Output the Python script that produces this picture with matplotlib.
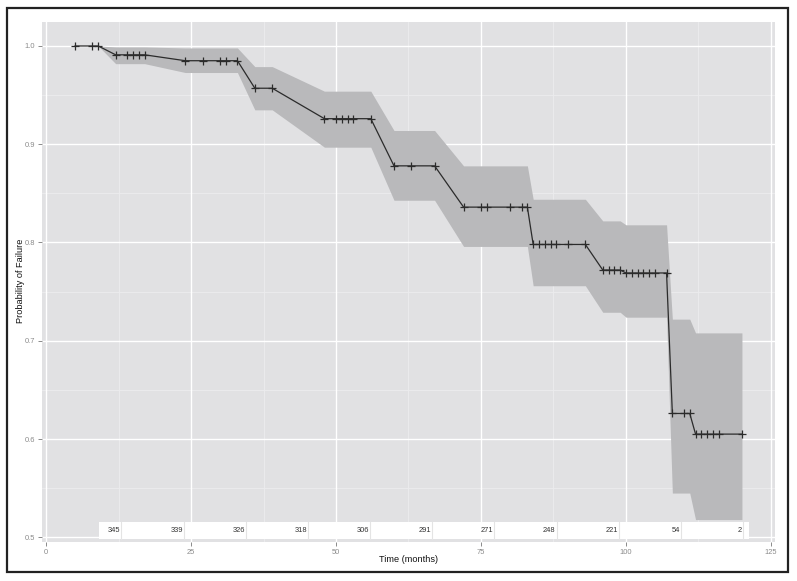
import numpy as np
import matplotlib.pyplot as plt
from matplotlib.patches import Rectangle

plt.rcParams['font.family'] = ['Liberation Sans', 'DejaVu Sans']

# Kaplan-Meier style failure curve
times = [5, 8, 9,
         12, 14, 15, 16, 17,
         24, 27, 30, 31, 33,
         36, 39,
         48, 50, 51, 52, 53, 56,
         60, 63, 67,
         72, 75, 76, 80, 82, 83,
         84, 85, 86, 87, 88, 90, 93,
         96, 97, 98, 99,
         100, 101, 102, 103, 104, 105, 107,
         108, 110, 111,
         112, 113, 114, 115, 116, 120]
level_sizes = [3, 5, 5, 2, 6, 3, 6, 7, 4, 7, 3, 6]
level_prob = [1.0, 0.991, 0.985, 0.957, 0.926, 0.878, 0.836, 0.798, 0.772, 0.769, 0.626, 0.605]
level_upper = [1.0, 0.999, 0.998, 0.979, 0.954, 0.914, 0.878, 0.844, 0.822, 0.818, 0.722, 0.708]
level_lower = [1.0, 0.982, 0.973, 0.935, 0.897, 0.843, 0.796, 0.756, 0.729, 0.724, 0.545, 0.518]

at_risk = ["345", "339", "326", "318", "306", "291", "271", "248", "221", "54", "2"]

prob = np.repeat(level_prob, level_sizes)
upper = np.repeat(level_upper, level_sizes)
lower = np.repeat(level_lower, level_sizes)

fig = plt.figure(figsize=(7.97, 5.81), dpi=100)
ax = fig.add_axes([42 / 797, 1 - 542 / 581, 733 / 797, 520 / 581])
ax.set_facecolor("#e1e1e3")

ax.set_xlim(-0.7, 125.7)
ax.set_ylim(0.4952, 1.0244)

# grid (ggplot-ish)
for x in np.arange(12.5, 126, 25):
    ax.axvline(x, color="#ececee", lw=0.6, zorder=0)
for y in np.arange(0.55, 1.01, 0.1):
    ax.axhline(y, color="#ececee", lw=0.6, zorder=0)
for x in np.arange(0, 126, 25):
    ax.axvline(x, color="white", lw=1.0, zorder=0.5)
for y in np.arange(0.5, 1.01, 0.1):
    ax.axhline(y, color="white", lw=1.0, zorder=0.5)

ax.fill_between(times, lower, upper, color="#b9b9bb", lw=0, zorder=1)
ax.plot(times, prob, color="#2b2b2b", lw=0.9, marker="+", ms=6, mew=0.9, zorder=2)

# number at risk strip
ax.add_patch(Rectangle((9.14, 0.498), 121.2 - 9.14, 0.5156 - 0.498,
                       facecolor="white", edgecolor="none", zorder=3))
seps = 13.0 + 10.72 * np.arange(len(at_risk))
for s, lab in zip(seps, at_risk):
    ax.plot([s, s], [0.498, 0.5156], color="#e4e4e4", lw=0.8, zorder=4)
    ax.text(s - 0.15, 0.5068, lab, ha="right", va="center", fontsize=5.4,
            color="#333333", zorder=5)

for sp in ax.spines.values():
    sp.set_visible(False)

ax.set_xticks(np.arange(0, 126, 25))
ax.set_yticks([0.5, 0.6, 0.7, 0.8, 0.9, 1.0])
ax.set_yticklabels(["0.5", "0.6", "0.7", "0.8", "0.9", "1.0"])
ax.tick_params(colors="#8a8a8a", labelsize=5.4, length=3, width=0.7, pad=2)

fig.text(408.5 / 797, 1 - 559 / 581, "Time (months)", fontsize=6.6,
         ha="center", va="center", color="#111111")
fig.text(20.7 / 797, 1 - 281 / 581, "Probability of Failure", fontsize=6.6,
         rotation=90, ha="center", va="center", color="#111111")

fig.patches.append(Rectangle((7.5 / 797, 1 - 572 / 581), 780 / 797, 564 / 581,
                             transform=fig.transFigure, fill=False,
                             edgecolor="#222222", lw=1.6))

fig.savefig("out.png", dpi=100)
